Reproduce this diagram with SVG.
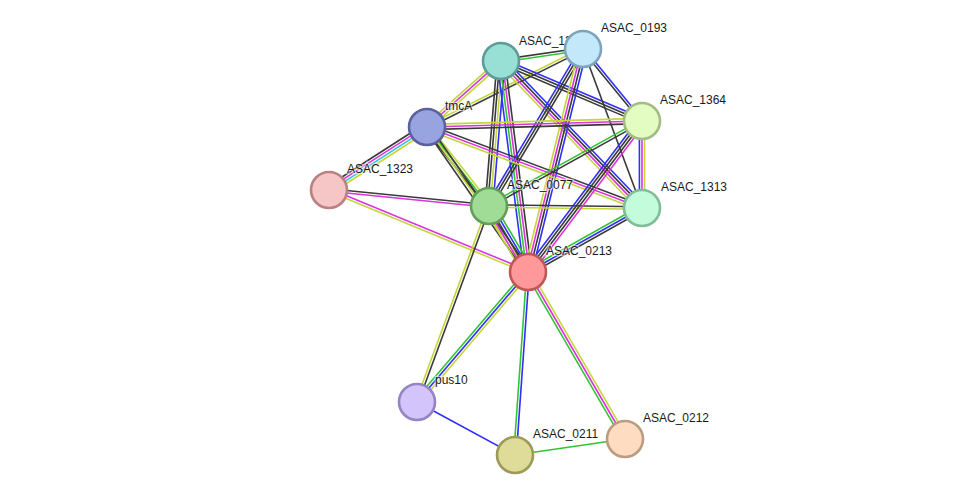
<svg xmlns="http://www.w3.org/2000/svg" width="976" height="500" viewBox="0 0 976 500">
<style>
line{stroke-width:1.6;fill:none}
.k{stroke:#3a3a3a}.b{stroke:#2f2fff}.g{stroke:#33c433}.m{stroke:#dd33dd}.y{stroke:#c4d63a}.c{stroke:#30c0dd}
circle{stroke-width:2.6}
text{font-family:"Liberation Sans",Arial,sans-serif;font-size:12px;fill:#1a1a1a;stroke:#ffffff;stroke-width:2.5;stroke-opacity:0.55;paint-order:stroke}
</style>
<rect width="976" height="500" fill="#ffffff"/>
<g id="edges">
<g transform="translate(501 61) rotate(-8.33)"><line x2="82.9" y1="-1.3" y2="-1.3" class="k"/><line x2="82.9" y1="1.3" y2="1.3" class="g"/></g>
<g transform="translate(427 127) rotate(-41.73)"><line x2="99.2" y1="-2.6" y2="-2.6" class="y"/><line x2="99.2" y1="0" y2="0" class="m"/><line x2="99.2" y1="2.6" y2="2.6" class="y"/></g>
<g transform="translate(427 127) rotate(-26.57)"><line x2="174.4" y1="-1.3" y2="-1.3" class="y"/><line x2="174.4" y1="1.3" y2="1.3" class="k"/></g>
<g transform="translate(501 61) rotate(94.73)"><line x2="145.5" y1="-3.9" y2="-3.9" class="b"/><line x2="145.5" y1="-1.3" y2="-1.3" class="y"/><line x2="145.5" y1="1.3" y2="1.3" class="k"/><line x2="145.5" y1="3.9" y2="3.9" class="k"/></g>
<g transform="translate(501 61) rotate(82.71)"><line x2="212.7" y1="-3.9" y2="-3.9" class="k"/><line x2="212.7" y1="-1.3" y2="-1.3" class="m"/><line x2="212.7" y1="1.3" y2="1.3" class="g"/><line x2="212.7" y1="3.9" y2="3.9" class="b"/></g>
<g transform="translate(501 61) rotate(23.05)"><line x2="153.2" y1="-2.6" y2="-2.6" class="b"/><line x2="153.2" y1="0" y2="0" class="k"/><line x2="153.2" y1="2.6" y2="2.6" class="k"/></g>
<g transform="translate(501 61) rotate(46.19)"><line x2="203.7" y1="-3.9" y2="-3.9" class="b"/><line x2="203.7" y1="-1.3" y2="-1.3" class="k"/><line x2="203.7" y1="1.3" y2="1.3" class="m"/><line x2="203.7" y1="3.9" y2="3.9" class="y"/></g>
<g transform="translate(583 49) rotate(50.67)"><line x2="93.1" y1="-1.3" y2="-1.3" class="b"/><line x2="93.1" y1="1.3" y2="1.3" class="k"/></g>
<g transform="translate(583 49) rotate(69.64)"><line x2="169.6" class="k"/></g>
<g transform="translate(583 49) rotate(120.91)"><line x2="183" y1="-2.6" y2="-2.6" class="k"/><line x2="183" y1="0" y2="0" class="k"/><line x2="183" y1="2.6" y2="2.6" class="b"/></g>
<g transform="translate(583 49) rotate(103.85)"><line x2="229.7" y1="-3.9" y2="-3.9" class="b"/><line x2="229.7" y1="-1.3" y2="-1.3" class="k"/><line x2="229.7" y1="1.3" y2="1.3" class="m"/><line x2="229.7" y1="3.9" y2="3.9" class="y"/></g>
<g transform="translate(427 127) rotate(-1.6)"><line x2="215.1" y1="-2.6" y2="-2.6" class="y"/><line x2="215.1" y1="0" y2="0" class="m"/><line x2="215.1" y1="2.6" y2="2.6" class="k"/></g>
<g transform="translate(427 127) rotate(20.64)"><line x2="229.8" y1="-2.6" y2="-2.6" class="k"/><line x2="229.8" y1="0" y2="0" class="m"/><line x2="229.8" y1="2.6" y2="2.6" class="y"/></g>
<g transform="translate(427 127) rotate(147.26)"><line x2="116.5" y1="-3.9" y2="-3.9" class="y"/><line x2="116.5" y1="-1.3" y2="-1.3" class="c"/><line x2="116.5" y1="1.3" y2="1.3" class="m"/><line x2="116.5" y1="3.9" y2="3.9" class="k"/></g>
<g transform="translate(427 127) rotate(51.88)"><line x2="100.4" y1="-2.6" y2="-2.6" class="y"/><line x2="100.4" y1="0" y2="0" class="g"/><line x2="100.4" y1="2.6" y2="2.6" class="k"/></g>
<g transform="translate(427 127) rotate(55.13)"><line x2="176.7" y1="-2.6" y2="-2.6" class="k"/><line x2="176.7" y1="0" y2="0" class="y"/><line x2="176.7" y1="2.6" y2="2.6" class="k"/></g>
<g transform="translate(329 190) rotate(5.71)"><line x2="160.8" y1="-1.3" y2="-1.3" class="k"/><line x2="160.8" y1="1.3" y2="1.3" class="m"/></g>
<g transform="translate(329 190) rotate(22.4)"><line x2="215.2" y1="-1.3" y2="-1.3" class="m"/><line x2="215.2" y1="1.3" y2="1.3" class="y"/></g>
<g transform="translate(489 206) rotate(0.75)"><line x2="153" y1="-1.3" y2="-1.3" class="k"/><line x2="153" y1="1.3" y2="1.3" class="y"/></g>
<g transform="translate(489 206) rotate(-29.05)"><line x2="175" y1="-1.3" y2="-1.3" class="g"/><line x2="175" y1="1.3" y2="1.3" class="k"/></g>
<g transform="translate(489 206) rotate(59.42)"><line x2="76.7" y1="-5.2" y2="-5.2" class="g"/><line x2="76.7" y1="-2.6" y2="-2.6" class="b"/><line x2="76.7" y1="0" y2="0" class="k"/><line x2="76.7" y1="2.6" y2="2.6" class="m"/><line x2="76.7" y1="5.2" y2="5.2" class="y"/></g>
<g transform="translate(489 206) rotate(110.17)"><line x2="208.8" y1="-1.3" y2="-1.3" class="k"/><line x2="208.8" y1="1.3" y2="1.3" class="y"/></g>
<g transform="translate(642 121) rotate(90)"><line x2="87" y1="-2.6" y2="-2.6" class="y"/><line x2="87" y1="0" y2="0" class="m"/><line x2="87" y1="2.6" y2="2.6" class="b"/></g>
<g transform="translate(642 121) rotate(127.05)"><line x2="189.2" y1="-3.9" y2="-3.9" class="m"/><line x2="189.2" y1="-1.3" y2="-1.3" class="k"/><line x2="189.2" y1="1.3" y2="1.3" class="k"/><line x2="189.2" y1="3.9" y2="3.9" class="b"/></g>
<g transform="translate(642 208) rotate(150.69)"><line x2="130.7" y1="-2.6" y2="-2.6" class="k"/><line x2="130.7" y1="0" y2="0" class="b"/><line x2="130.7" y1="2.6" y2="2.6" class="g"/></g>
<g transform="translate(528 272) rotate(130.49)"><line x2="170.9" y1="-2.6" y2="-2.6" class="y"/><line x2="170.9" y1="0" y2="0" class="b"/><line x2="170.9" y1="2.6" y2="2.6" class="g"/></g>
<g transform="translate(528 272) rotate(94.06)"><line x2="183.5" y1="-1.3" y2="-1.3" class="b"/><line x2="183.5" y1="1.3" y2="1.3" class="g"/></g>
<g transform="translate(528 272) rotate(59.85)"><line x2="193.1" y1="-2.6" y2="-2.6" class="y"/><line x2="193.1" y1="0" y2="0" class="m"/><line x2="193.1" y1="2.6" y2="2.6" class="g"/></g>
<g transform="translate(417 402) rotate(28.4)"><line x2="111.4" class="b"/></g>
<g transform="translate(515 455) rotate(-8.28)"><line x2="111.2" class="g"/></g>
</g>
<g id="n_ASAC_1"><circle cx="501" cy="61" r="18" fill="#98e0d6" stroke="#5f9c98"/><text x="519" y="45">ASAC_13</text></g>
<g id="n_ASAC_0193"><circle cx="583" cy="49" r="18" fill="#c2e8fa" stroke="#7ca4ba"/><text x="601" y="32">ASAC_0193</text></g>
<g id="n_ASAC_1364"><circle cx="642" cy="121" r="18" fill="#e2fcc2" stroke="#a2bc84"/><text x="660" y="104">ASAC_1364</text></g>
<g id="n_tmcA"><circle cx="427" cy="127" r="18" fill="#98a4e0" stroke="#5a629e"/><text x="445" y="110">tmcA</text></g>
<g id="n_ASAC_1323"><circle cx="329" cy="190" r="18" fill="#f6c6c6" stroke="#b88282"/><text x="347" y="173">ASAC_1323</text></g>
<g id="n_ASAC_0077"><circle cx="489" cy="206" r="18" fill="#a0dc96" stroke="#62a05a"/><text x="507" y="189">ASAC_0077</text></g>
<g id="n_ASAC_1313"><circle cx="642" cy="208" r="18" fill="#c2fcda" stroke="#82bc98"/><text x="661" y="191">ASAC_1313</text></g>
<g id="n_ASAC_0213"><circle cx="528" cy="272" r="18" fill="#ff9898" stroke="#c05656"/><text x="546" y="255">ASAC_0213</text></g>
<g id="n_pus10"><circle cx="417" cy="402" r="18" fill="#d4c4fc" stroke="#9484c2"/><text x="435" y="384">pus10</text></g>
<g id="n_ASAC_0211"><circle cx="515" cy="455" r="18" fill="#dedc98" stroke="#9c9a58"/><text x="533" y="438">ASAC_0211</text></g>
<g id="n_ASAC_0212"><circle cx="625" cy="439" r="18" fill="#fedcc2" stroke="#bc9c80"/><text x="643" y="422">ASAC_0212</text></g>
</svg>
